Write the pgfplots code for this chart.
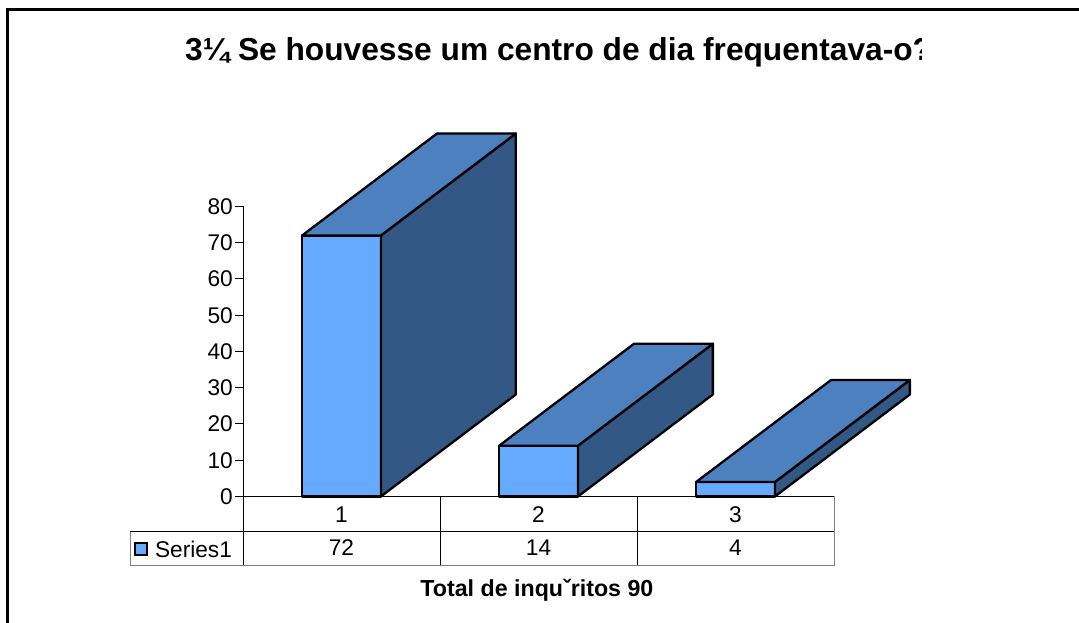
\documentclass[border=0pt]{standalone}
\usepackage{fontspec}
\setmainfont{Liberation Sans}
\usepackage{pgfplots}
\pgfplotsset{compat=1.18}
\definecolor{frontc}{HTML}{66AAFF}
\definecolor{topc}{HTML}{4D80BF}
\definecolor{sidec}{HTML}{335885}
\begin{document}
\begin{tikzpicture}[x=1pt,y=1pt]
\useasboundingbox (0,0) rectangle (1079,623);
\draw[line width=3pt,line cap=butt] (7.5,0) -- (7.5,613) -- (1079,613);
\begin{scope}
\clip (0,540) rectangle (921,600);
\node[anchor=base west,inner sep=0pt,font=\fontsize{31.7}{36}\selectfont\bfseries] at (185,562) {3¼ Se houvesse um centro de dia frequentava-o?};
\end{scope}
\begin{axis}[
  at={(243pt,126.5pt)},anchor=origin,
  scale only axis,x=197pt,y=3.625pt,
  xmin=0,xmax=3,ymin=0,ymax=80,
  clip=false,
  axis x line=bottom,axis y line=left,
  axis line style={black,line width=1pt,-},
  xtick={0.5,1.5,2.5},xticklabels={1,2,3},
  major x tick style={draw=none},
  ytick={0,10,...,80},
  major y tick style={black,line width=1pt},
  tick align=outside,
  major tick length=8pt,
  yticklabel style={font=\fontsize{22.7}{26}\selectfont,inner sep=0pt,xshift=-2pt},
  xticklabel style={font=\fontsize{22.7}{26}\selectfont,inner sep=0pt,yshift=-2pt},
  /pgf/number format/assume math mode=true,
]
\pgfplotsset{bar/.style={draw=black,line width=2.3pt,line join=round,fill=#1}}
% bar 1
\addplot[bar=frontc] coordinates {(0.3,0) (0.7,0) (0.7,72) (0.3,72)} -- cycle;
\addplot[bar=sidec] coordinates {(0.7,0) (1.385,28.14) (1.385,100.14) (0.7,72)} -- cycle;
\addplot[bar=topc] coordinates {(0.3,72) (0.7,72) (1.385,100.14) (0.985,100.14)} -- cycle;
% bar 2
\addplot[bar=frontc] coordinates {(1.3,0) (1.7,0) (1.7,14) (1.3,14)} -- cycle;
\addplot[bar=sidec] coordinates {(1.7,0) (2.385,28.14) (2.385,42.14) (1.7,14)} -- cycle;
\addplot[bar=topc] coordinates {(1.3,14) (1.7,14) (2.385,42.14) (1.985,42.14)} -- cycle;
% bar 3
\addplot[bar=frontc] coordinates {(2.3,0) (2.7,0) (2.7,4) (2.3,4)} -- cycle;
\addplot[bar=sidec] coordinates {(2.7,0) (3.385,28.14) (3.385,32.14) (2.7,4)} -- cycle;
\addplot[bar=topc] coordinates {(2.3,4) (2.7,4) (3.385,32.14) (2.985,32.14)} -- cycle;
% data table
\draw[black,line width=1pt] (axis cs:0,0) -- (axis cs:0,-19);
\draw[black,line width=1pt] (axis cs:1,0) -- (axis cs:1,-19);
\draw[black,line width=1pt] (axis cs:2,0) -- (axis cs:2,-19);
\draw[black,line width=1pt] (axis cs:-0.5736,-9.7) -- (axis cs:3,-9.7);
\draw[gray,line width=1pt] (axis cs:-0.5736,-9.7) -- (axis cs:-0.5736,-19) -- (axis cs:3,-19) -- (axis cs:3,0);
\node[font=\fontsize{22.7}{26}\selectfont] at (axis cs:0.5,-14.2) {72};
\node[font=\fontsize{22.7}{26}\selectfont] at (axis cs:1.5,-14.2) {14};
\node[font=\fontsize{22.7}{26}\selectfont] at (axis cs:2.5,-14.2) {4};
\node[font=\fontsize{22.7}{26}\selectfont,anchor=west,inner sep=0pt] at (axis cs:-0.4477,-14.6) {Series1};
\draw[black,line width=2pt,fill=frontc] (axis cs:-0.5457,-12.7) rectangle (axis cs:-0.4863,-16.2);
\node[font=\fontsize{23.2}{27}\selectfont\bfseries,anchor=base] at (axis cs:1.492,-27.6) {Total de inquˇritos 90};
\end{axis}
\end{tikzpicture}
\end{document}
